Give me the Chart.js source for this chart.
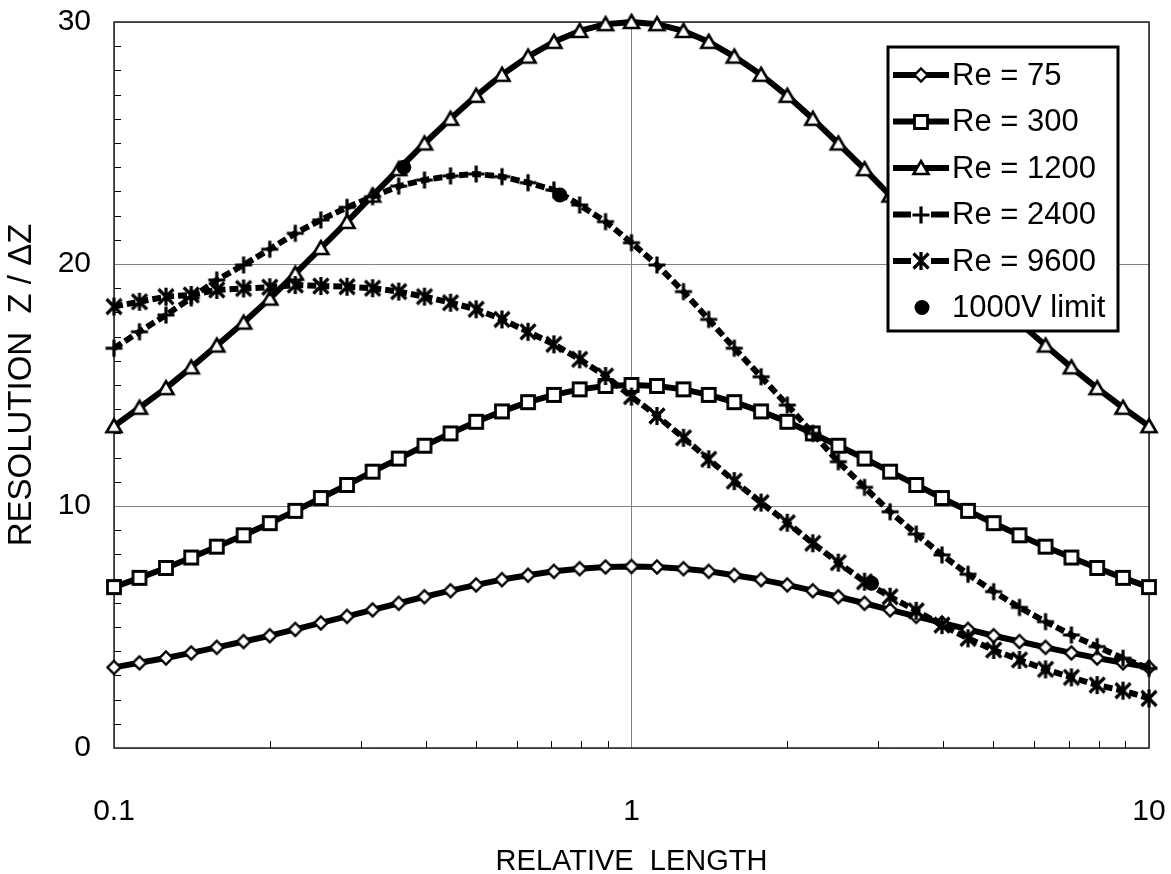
<!DOCTYPE html>
<html>
<head>
<meta charset="utf-8">
<script src="https://cdn.jsdelivr.net/npm/chart.js@4.4.1/dist/chart.umd.min.js"></script>
<style>
  html,body{margin:0;padding:0;background:#fff;}
  #wrap{width:1171px;height:874px;}
</style>
</head>
<body>
<div id="wrap"><canvas id="chart" width="1171" height="874"></canvas></div>
<script>
// relative length (log spaced, 20 points per decade)
const relLength = [0.1, 0.112, 0.126, 0.141, 0.158, 0.178, 0.2, 0.224, 0.251, 0.282, 0.316,
  0.355, 0.398, 0.447, 0.501, 0.562, 0.631, 0.708, 0.794, 0.891, 1,
  1.12, 1.26, 1.41, 1.58, 1.78, 2.0, 2.24, 2.51, 2.82, 3.16,
  3.55, 3.98, 4.47, 5.01, 5.62, 6.31, 7.08, 7.94, 8.91, 10];

const re75 = [3.33, 3.52, 3.72, 3.93, 4.16, 4.40, 4.64, 4.90, 5.17, 5.44, 5.71,
  5.98, 6.25, 6.50, 6.74, 6.96, 7.14, 7.30, 7.41, 7.48, 7.50,
  7.48, 7.41, 7.30, 7.14, 6.96, 6.74, 6.50, 6.25, 5.98, 5.71,
  5.44, 5.17, 4.90, 4.64, 4.40, 4.16, 3.93, 3.72, 3.52, 3.33];

const re300 = [6.65, 7.03, 7.44, 7.87, 8.32, 8.79, 9.29, 9.80, 10.33, 10.87, 11.42,
  11.96, 12.49, 13.00, 13.48, 13.91, 14.29, 14.59, 14.82, 14.96, 15.00,
  14.96, 14.82, 14.59, 14.29, 13.91, 13.48, 13.00, 12.49, 11.96, 11.42,
  10.87, 10.33, 9.80, 9.29, 8.79, 8.32, 7.87, 7.44, 7.03, 6.65];

const re1200 = [13.30, 14.06, 14.87, 15.73, 16.63, 17.58, 18.57, 19.60, 20.66, 21.74, 22.83,
  23.92, 24.98, 26.00, 26.95, 27.82, 28.57, 29.18, 29.63, 29.91, 30.00,
  29.91, 29.63, 29.18, 28.57, 27.82, 26.95, 26.00, 24.98, 23.92, 22.83,
  21.74, 20.66, 19.60, 18.57, 17.58, 16.63, 15.73, 14.87, 14.06, 13.30];

const re2400 = [16.52, 17.20, 17.89, 18.60, 19.34, 19.96, 20.61, 21.27, 21.82, 22.34, 22.78,
  23.22, 23.47, 23.64, 23.72, 23.61, 23.36, 23.06, 22.44, 21.75, 20.88,
  19.96, 18.86, 17.71, 16.52, 15.34, 14.17, 13.00, 11.83, 10.77, 9.76,
  8.84, 7.98, 7.18, 6.46, 5.81, 5.22, 4.67, 4.19, 3.71, 3.29];

const re9600 = [18.24, 18.44, 18.65, 18.72, 18.93, 18.99, 19.04, 19.13, 19.09, 19.06, 19.00,
  18.86, 18.65, 18.40, 18.13, 17.71, 17.20, 16.68, 16.06, 15.37, 14.52,
  13.72, 12.82, 11.93, 11.03, 10.14, 9.31, 8.46, 7.66, 6.87, 6.25,
  5.67, 5.08, 4.53, 4.05, 3.64, 3.25, 2.92, 2.60, 2.37, 2.05];

// 1000V limit points
const limitLength = [0.363, 0.727, 2.91];
const limitResolution = [24.0, 22.85, 6.81];

const xTickValues = [0.1, 1, 10];
const xMinorTicks = [0.2, 0.3, 0.4, 0.5, 0.6, 0.7, 0.8, 0.9, 2, 3, 4, 5, 6, 7, 8, 9];
const yMinorTicks = [1, 2, 3, 4, 5, 6, 7, 8, 9, 11, 12, 13, 14, 15, 16, 17, 18, 19,
  21, 22, 23, 24, 25, 26, 27, 28, 29];

const FONT = "'Liberation Sans', Arial, sans-serif";

// marker glyphs drawn once on small canvases
function makeMarker(draw){
  const c = document.createElement('canvas');
  c.width = 22; c.height = 22;
  const g = c.getContext('2d');
  g.translate(11, 11);
  g.strokeStyle = '#000';
  g.fillStyle = '#fff';
  g.lineWidth = 2.5;
  draw(g);
  return c;
}
const diamondMark = makeMarker(g => {
  g.lineWidth = 2.4;
  g.beginPath(); g.moveTo(0, -6.5); g.lineTo(6.5, 0); g.lineTo(0, 6.5); g.lineTo(-6.5, 0); g.closePath();
  g.fill(); g.stroke();
});
const squareMark = makeMarker(g => {
  g.lineWidth = 2.8;
  g.beginPath(); g.rect(-6.5, -6.5, 13, 13); g.fill(); g.stroke();
});
const triangleMark = makeMarker(g => {
  g.lineWidth = 2.6;
  g.beginPath(); g.moveTo(0, -7); g.lineTo(7.5, 6); g.lineTo(-7.5, 6); g.closePath();
  g.fill(); g.stroke();
});
const plusMark = makeMarker(g => {
  g.lineWidth = 3.2;
  g.beginPath(); g.moveTo(-8.5, 0); g.lineTo(8.5, 0); g.moveTo(0, -8.5); g.lineTo(0, 8.5); g.stroke();
});
const starMark = makeMarker(g => {
  g.lineWidth = 3.2;
  g.beginPath();
  g.moveTo(-7.5, -7.5); g.lineTo(7.5, 7.5); g.moveTo(7.5, -7.5); g.lineTo(-7.5, 7.5);
  g.moveTo(0, -9); g.lineTo(0, 9);
  g.stroke();
});

function pts(xs, ys){ return xs.map((x, i) => ({x: x, y: ys[i]})); }

function series(label, ys, marker, dashed, order){
  return {
    label: label,
    data: pts(relLength, ys),
    borderColor: '#000',
    borderWidth: 6,
    borderDash: dashed ? [9, 4] : [],
    borderCapStyle: 'butt',
    borderJoinStyle: 'round',
    pointStyle: marker,
    pointRadius: 7,
    pointHoverRadius: 7,
    tension: 0,
    clip: false,
    order: order
  };
}

const datasets = [
  {
    label: '1000V limit',
    data: pts(limitLength, limitResolution),
    showLine: false,
    pointStyle: 'circle',
    pointRadius: 7.5,
    pointBackgroundColor: '#000',
    pointBorderColor: '#000',
    pointBorderWidth: 0,
    clip: false,
    order: 0
  },
  series('Re = 75', re75, diamondMark, false, 5),
  series('Re = 300', re300, squareMark, false, 4),
  series('Re = 1200', re1200, triangleMark, false, 3),
  series('Re = 2400', re2400, plusMark, true, 2),
  series('Re = 9600', re9600, starMark, true, 1)
];

const legendRows = [
  {text: 'Re = 75', marker: diamondMark, dashed: false},
  {text: 'Re = 300', marker: squareMark, dashed: false},
  {text: 'Re = 1200', marker: triangleMark, dashed: false},
  {text: 'Re = 2400', marker: plusMark, dashed: true},
  {text: 'Re = 9600', marker: starMark, dashed: true},
  {text: '1000V limit', marker: null, dashed: false}
];

const framePlugin = {
  id: 'frame',
  beforeDatasetsDraw(chart){
    const {ctx, chartArea: a, scales: {x, y}} = chart;
    ctx.save();
    ctx.strokeStyle = '#000';
    ctx.lineWidth = 1;
    ctx.beginPath();
    yMinorTicks.forEach(v => {
      const py = Math.round(y.getPixelForValue(v)) + 0.5;
      ctx.moveTo(a.left, py); ctx.lineTo(a.left + 7, py);
    });
    xMinorTicks.forEach(v => {
      const px = Math.round(x.getPixelForValue(v)) + 0.5;
      ctx.moveTo(px, a.bottom); ctx.lineTo(px, a.bottom - 7);
    });
    ctx.stroke();
    ctx.lineWidth = 1.5;
    ctx.strokeStyle = '#222';
    ctx.strokeRect(a.left, a.top, a.right - a.left, a.bottom - a.top);
    ctx.restore();
  },
  afterDatasetsDraw(chart){
    const ctx = chart.ctx;
    const bx = 888, by = 47, bw = 230, bh = 284;
    ctx.save();
    ctx.fillStyle = '#fff';
    ctx.fillRect(bx, by, bw, bh);
    ctx.strokeStyle = '#000';
    ctx.lineWidth = 3;
    ctx.strokeRect(bx, by, bw, bh);
    ctx.font = '31px ' + FONT;
    ctx.textBaseline = 'middle';
    ctx.textAlign = 'left';
    ctx.fillStyle = '#000';
    legendRows.forEach((row, i) => {
      const cy = 75 + i * 46.5;
      if (row.marker){
        ctx.lineWidth = 6;
        ctx.lineCap = 'butt';
        ctx.beginPath();
        if (row.dashed){
          ctx.moveTo(893, cy); ctx.lineTo(911, cy);
          ctx.moveTo(931, cy); ctx.lineTo(949, cy);
        } else {
          ctx.moveTo(893, cy); ctx.lineTo(949, cy);
        }
        ctx.stroke();
        ctx.drawImage(row.marker, 921 - 11, Math.round(cy) - 11);
      } else {
        ctx.beginPath();
        ctx.arc(922, cy, 7.5, 0, Math.PI * 2);
        ctx.fill();
      }
      ctx.fillText(row.text, 952, cy + 1);
    });
    ctx.restore();
  }
};

new Chart(document.getElementById('chart'), {
  type: 'line',
  data: {datasets: datasets},
  options: {
    responsive: false,
    animation: false,
    events: [],
    layout: {autoPadding: false, padding: {top: 22, right: 22, left: 0, bottom: 0}},
    plugins: {legend: {display: false}, tooltip: {enabled: false}},
    scales: {
      x: {
        type: 'logarithmic',
        min: 0.1,
        max: 10,
        afterBuildTicks: scale => { scale.ticks = xTickValues.map(v => ({value: v})); },
        afterFit: scale => {
          scale.height = 126;
          scale.paddingLeft = 0;
          scale.paddingRight = 0;
        },
        grid: {color: '#808080', lineWidth: 1, drawTicks: false},
        border: {display: false},
        ticks: {
          autoSkip: false,
          maxRotation: 0,
          padding: 46,
          color: '#000',
          font: {family: FONT, size: 30},
          callback: v => String(v)
        },
        title: {
          display: true,
          text: 'RELATIVE  LENGTH',
          color: '#000',
          font: {family: FONT, size: 29, lineHeight: 0.8},
          padding: 0
        }
      },
      y: {
        type: 'linear',
        min: 0,
        max: 30,
        afterFit: scale => {
          scale.width = 114;
          scale.paddingTop = 0;
          scale.paddingBottom = 0;
        },
        grid: {color: '#808080', lineWidth: 1, drawTicks: false},
        border: {display: false},
        ticks: {
          stepSize: 10,
          padding: 23,
          color: '#000',
          font: {family: FONT, size: 30}
        },
        title: {
          display: true,
          text: 'RESOLUTION  Z / ΔZ',
          color: '#000',
          font: {family: FONT, size: 33, lineHeight: 1.2},
          padding: {top: 2, bottom: 0}
        }
      }
    }
  },
  plugins: [framePlugin]
});
</script>
</body>
</html>
